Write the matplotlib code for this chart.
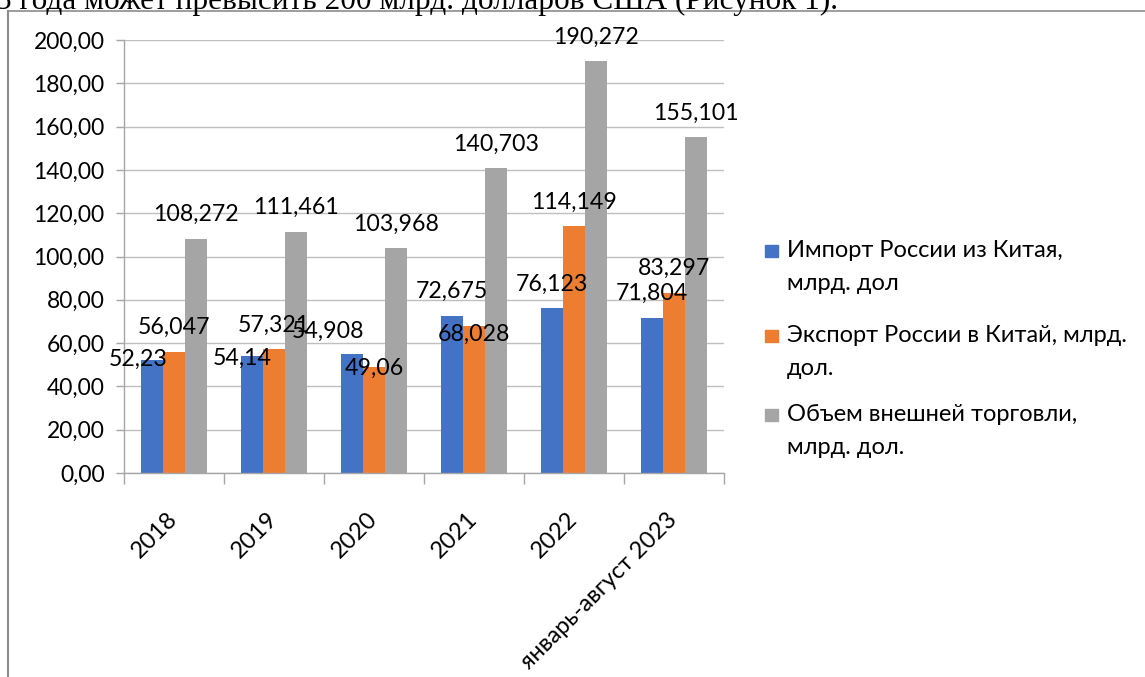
import numpy as np
import matplotlib
matplotlib.use('Agg')
import matplotlib.pyplot as plt
from matplotlib.lines import Line2D
from matplotlib.patches import Rectangle

# data
categories = ['2018', '2019', '2020', '2021', '2022', 'январь-август 2023']
import_cn = [52.23, 54.14, 54.908, 72.675, 76.123, 71.804]
export_cn = [56.047, 57.321, 49.06, 68.028, 114.149, 83.297]
trade_total = [108.272, 111.461, 103.968, 140.703, 190.272, 155.101]
series_names = ['Импорт России из Китая,\nмлрд. дол',
                'Экспорт России в Китай, млрд.\nдол.',
                'Объем внешней торговли,\nмлрд. дол.']
y_ticks = [0, 20, 40, 60, 80, 100, 120, 140, 160, 180, 200]

colors = ['#4472C4', '#ED7D31', '#A5A5A5']
# label offsets (px) relative to bar top, most are the default
label_offsets = [
    [(-14, 3), (-10, -1), (-24, 25), (0, 26), (0, 26), (0, 26)],
    [(0, 26), (0, 26), (0, 0), (0, -7), (0, 26), (0, 26)],
    [(0, 26)] * 6,
]

plt.rcParams['font.family'] = ['Lato', 'DejaVu Sans']

W, H = 1145, 677
fig = plt.figure(figsize=(W / 100, H / 100), dpi=100)
ax = fig.add_axes([124 / W, 1 - 473 / H, 600 / W, 433 / H])

x = np.arange(len(categories))
bw = 0.22
all_series = [import_cn, export_cn, trade_total]
for i, vals in enumerate(all_series):
    xs = x + (i - 1) * bw
    ax.bar(xs, vals, width=bw, color=colors[i], zorder=2)
    for j, v in enumerate(vals):
        dx, dy = label_offsets[i][j]
        ax.annotate(str(v).replace('.', ','), xy=(xs[j], v), xytext=(dx, dy),
                    textcoords='offset pixels', ha='center', va='center_baseline',
                    fontsize=16.7, zorder=5, annotation_clip=False)

ax.set_xlim(-0.5, len(categories) - 0.5)
ax.set_ylim(0, 200)
ax.set_yticks(y_ticks)
ax.set_yticklabels([f'{t:.2f}'.replace('.', ',') for t in y_ticks], fontsize=16.5)
ax.set_xticks(x)
ax.set_xticklabels(categories, fontsize=17, rotation=45, ha='right',
                   va='center', rotation_mode='anchor')
ax.set_xticks(np.arange(len(categories) + 1) - 0.5, minor=True)
ax.tick_params(axis='x', which='major', length=0, pad=31)
ax.tick_params(axis='x', which='minor', length=8, color='#a6a6a6', width=1)
ax.tick_params(axis='y', length=6, color='#a6a6a6', width=1, pad=8)
ax.yaxis.grid(True, color='#bfbfbf', linewidth=1, zorder=0)
ax.set_axisbelow(True)
for s in ['top', 'right']:
    ax.spines[s].set_visible(False)
for s in ['left', 'bottom']:
    ax.spines[s].set_color('#a6a6a6')
    ax.spines[s].set_linewidth(1)

# legend drawn by hand so the square sits on the first line
legend_y = [251, 336, 415]
for i, name in enumerate(series_names):
    yc = legend_y[i]
    fig.patches.append(Rectangle((765 / W, 1 - (yc + 6) / H), 13 / W, 12 / H,
                                 color=colors[i], transform=fig.transFigure))
    fig.text(787 / W, 1 - (yc - 11) / H, name, fontsize=17, va='top',
             ha='left', linespacing=1.7)

# page frame and the cut text line above the chart
fig.add_artist(Line2D([8 / W, 8 / W], [0, 1 - 11 / H], color='#8c8c8c', lw=1.5))
fig.add_artist(Line2D([8 / W, 1], [1 - 11 / H, 1 - 11 / H], color='#8c8c8c', lw=1.2))
fig.text(-4 / W, 1 - 9 / H, '3 года может превысить 200 млрд. долларов США (Рисунок 1).',
         fontsize=22.5, family='Liberation Serif', va='baseline', ha='left')

fig.savefig('out.png', dpi=100)
